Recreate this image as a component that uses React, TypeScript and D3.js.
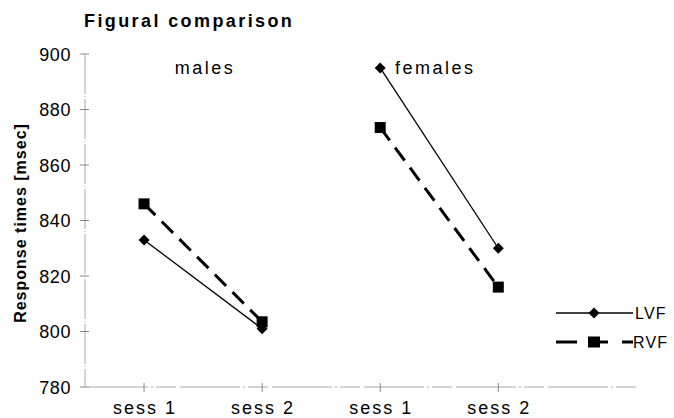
import * as d3 from 'd3';

const sessions = ['sess 1', 'sess 2', 'sess 1', 'sess 2'];
const groups = ['males', 'females'];
const lvf = [833, 801, 895, 830];
const rvf = [846, 803.5, 873.5, 816];
const yTicks = [780, 800, 820, 840, 860, 880, 900];

export default function App() {
  const width = 674;
  const height = 418;

  const x = d3.scaleLinear().domain([0.5, 5.2]).range([85, 640]);
  const y = d3.scaleLinear().domain([780, 900]).range([387, 54]);

  // each group gets its own two-point line
  const pairs = [[0, 1], [2, 3]];

  const diamond = (cx: number, cy: number, r: number) =>
    `M${cx},${cy - r}L${cx + r},${cy}L${cx},${cy + r}L${cx - r},${cy}Z`;

  const seg = (vals: number[], a: number, b: number) =>
    d3.line<number>().x((_, j) => x([a, b][j] + 1)).y(d => y(d))([vals[a], vals[b]]) || '';

  const font = '"Liberation Sans", Arial, sans-serif';

  return (
    <svg width={width} height={height} style={{ position: 'absolute', left: 0, top: 0, background: '#fff' }}
      fontFamily={font}>
      <text x={84} y={27} fontSize={18} fontWeight="bold" letterSpacing={2.4}>Figural comparison</text>

      {/* y axis */}
      <line x1={x(0.5)} x2={x(0.5)} y1={y(900)} y2={y(780)} stroke="#aaa" strokeWidth={1} strokeDasharray="40,2,1,2" />
      {yTicks.map(t => (
        <g key={t}>
          <line x1={x(0.5) - 5} x2={x(0.5) + 4} y1={y(t)} y2={y(t)} stroke="#888" strokeWidth={1} />
          <text x={71} y={y(t) + 6.5} fontSize={18} textAnchor="end" letterSpacing={0.6}>{t}</text>
        </g>
      ))}

      {/* x axis */}
      <line x1={x(0.5) + 3} x2={x(5.2)} y1={y(780)} y2={y(780)} stroke="#aaa" strokeWidth={1} strokeDasharray="60,3,2,3,20,4" />
      {sessions.map((s, i) => (
        <g key={i}>
          <line x1={x(i + 1)} x2={x(i + 1)} y1={y(780) - 4} y2={y(780) + 5} stroke="#888" strokeWidth={1} />
          <text x={x(i + 1) + 1} y={414} fontSize={18} textAnchor="middle" letterSpacing={2}>{s}</text>
        </g>
      ))}

      {/* group labels */}
      <text x={x(1.5) + 2} y={74} fontSize={18} textAnchor="middle" letterSpacing={2.5}>{groups[0]}</text>
      <text x={x(3.5) - 4} y={74} fontSize={18} textAnchor="middle" letterSpacing={2.5}>{groups[1]}</text>

      <text transform={`translate(26,${223}) rotate(-90)`} fontSize={16} fontWeight="bold" textAnchor="middle" letterSpacing={1}>
        Response times [msec]
      </text>

      {pairs.map(([a, b], k) => (
        <g key={k}>
          <path d={seg(rvf, a, b)} fill="none" stroke="#000" strokeWidth={3} strokeDasharray="16,9" />
          <path d={seg(lvf, a, b)} fill="none" stroke="#000" strokeWidth={1.3} />
        </g>
      ))}

      {rvf.map((v, i) => (
        <rect key={'r' + i} x={x(i + 1) - 5.5} y={y(v) - 5.5} width={11} height={11} fill="#000" />
      ))}
      {lvf.map((v, i) => (
        <path key={'l' + i} d={diamond(x(i + 1), y(v), 5.5)} fill="#000" />
      ))}

      {/* legend */}
      <line x1={556} x2={633} y1={313} y2={313} stroke="#000" strokeWidth={1.3} />
      <path d={diamond(594, 313, 5.5)} fill="#000" />
      <text x={635} y={319} fontSize={16} letterSpacing={1.2}>LVF</text>
      <line x1={556} x2={633} y1={342} y2={342} stroke="#000" strokeWidth={3} strokeDasharray="21,11,20,14,11,20" />
      <rect x={588} y={336.5} width={12} height={11} fill="#000" />
      <text x={633} y={348} fontSize={16} letterSpacing={1.2}>RVF</text>
    </svg>
  );
}
